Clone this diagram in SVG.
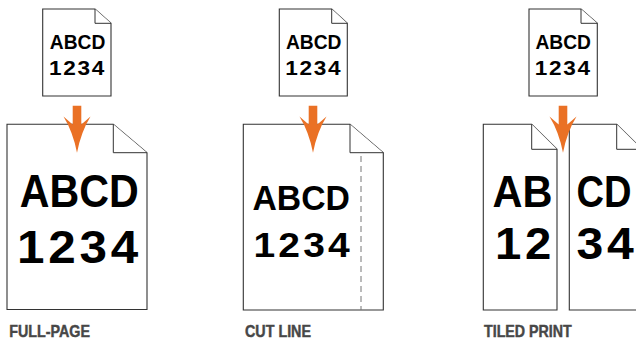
<svg xmlns="http://www.w3.org/2000/svg" width="636" height="339" viewBox="0 0 636 339">
<style>
.page{fill:#fff;stroke:#333;stroke-width:1.1;stroke-linejoin:miter}
.fold{fill:#fff;stroke:#333;stroke-width:1}
.t{font-family:"Liberation Sans",Arial,sans-serif;font-weight:bold;fill:#000}
.lbl{font-family:"Liberation Sans",Arial,sans-serif;font-weight:bold;fill:#474747;stroke:#474747;stroke-width:0.45;font-size:16.5px}
.arrow{fill:#EA7125}
.cut{stroke:#777;stroke-width:1;stroke-dasharray:6 4;fill:none}
</style>
<defs>
<path id="arr" class="arrow" d="M-4.3,105.7 H4.3 V124.5 L13.5,116.5 Q4,132 0,152.7 Q-4,132 -13.5,116.5 L-4.3,124.5 Z"/>
</defs>

<!-- Panel 1 -->
<g id="src1">
<path class="page" d="M42.7,9 H95 L111,23.3 V96 H42.7 Z"/>
<path class="fold" d="M95,9 V23.3 H111"/>
<text class="t" x="49.8" y="49.3" font-size="20" textLength="55.5" lengthAdjust="spacingAndGlyphs">ABCD</text>
<text class="t" x="49" y="75" font-size="20" letter-spacing="1.5" textLength="57" lengthAdjust="spacingAndGlyphs">1234</text>
</g>
<g id="full">
<path class="page" d="M7,124.3 H113.3 L147,152.7 V309.5 H7 Z"/>
<path class="fold" d="M113.3,124.3 V152.7 H147"/>
<text class="t" x="19.8" y="206.7" font-size="46" textLength="119" lengthAdjust="spacingAndGlyphs">ABCD</text>
<text class="t" x="17" y="262.7" font-size="46" letter-spacing="3.5" textLength="125" lengthAdjust="spacingAndGlyphs">1234</text>
</g>
<text id="lbl1" class="lbl" x="9.3" y="336.7" textLength="80.7" lengthAdjust="spacingAndGlyphs">FULL-PAGE</text>

<!-- Panel 2 -->
<g id="src2">
<path class="page" d="M279.3,9 H331.7 L347.3,23.3 V96 H279.3 Z"/>
<path class="fold" d="M331.7,9 V23.3 H347.3"/>
<text class="t" x="286" y="49.3" font-size="20" textLength="55.5" lengthAdjust="spacingAndGlyphs">ABCD</text>
<text class="t" x="285.3" y="75" font-size="20" letter-spacing="1.5" textLength="57" lengthAdjust="spacingAndGlyphs">1234</text>
</g>
<g id="cutline">
<path class="page" d="M243.3,124.3 H350 L383.3,152.7 V310 H243.3 Z"/>
<path class="fold" d="M350,124.3 V152.7 H383.3"/>
<line class="cut" x1="361" y1="156" x2="361" y2="310"/>
<text class="t" x="252.5" y="210" font-size="35" textLength="97.5" lengthAdjust="spacingAndGlyphs">ABCD</text>
<text class="t" x="253.5" y="256.7" font-size="35" letter-spacing="2.8" textLength="99.3" lengthAdjust="spacingAndGlyphs">1234</text>
</g>
<text id="lbl2" class="lbl" x="245" y="336.7" textLength="66" lengthAdjust="spacingAndGlyphs">CUT LINE</text>

<!-- Panel 3 -->
<g id="src3">
<path class="page" d="M529,9 H581 L597.3,23.3 V96 H529 Z"/>
<path class="fold" d="M581,9 V23.3 H597.3"/>
<text class="t" x="535.5" y="49.3" font-size="20" textLength="55.5" lengthAdjust="spacingAndGlyphs">ABCD</text>
<text class="t" x="534.8" y="75" font-size="20" letter-spacing="1.5" textLength="57" lengthAdjust="spacingAndGlyphs">1234</text>
</g>
<g id="tileL">
<path class="page" d="M483.3,124.3 H531.7 L557,149.3 V310 H483.3 Z"/>
<path class="fold" d="M531.7,124.3 V149.3 H557"/>
<text class="t" x="492.5" y="206.7" font-size="45" textLength="60" lengthAdjust="spacingAndGlyphs">AB</text>
<text class="t" x="495" y="259.3" font-size="45" letter-spacing="3.5" textLength="60" lengthAdjust="spacingAndGlyphs">12</text>
</g>
<g id="tileR">
<path class="page" d="M569.3,124.3 H616.7 L642,149.3 V310 H569.3 Z"/>
<path class="fold" d="M616.7,124.3 V149.3 H642"/>
<text class="t" x="576.5" y="206.7" font-size="45" textLength="55" lengthAdjust="spacingAndGlyphs">CD</text>
<text class="t" x="576.5" y="259.3" font-size="45" letter-spacing="3.5" textLength="61" lengthAdjust="spacingAndGlyphs">34</text>
</g>
<text id="lbl3" class="lbl" x="484" y="336.7" textLength="87.7" lengthAdjust="spacingAndGlyphs">TILED PRINT</text>

<g id="connectors">
<use href="#arr" x="77" y="0"/>
<use href="#arr" x="313" y="0"/>
<use href="#arr" x="563" y="0"/>
</g>
</svg>
